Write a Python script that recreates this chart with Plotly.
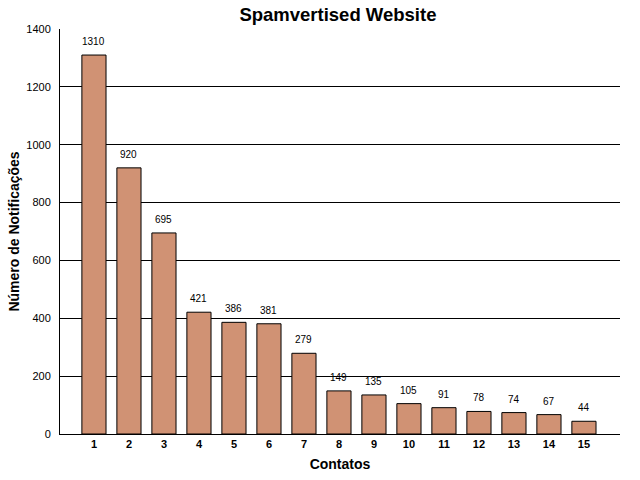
import plotly.graph_objects as go

contatos = list(range(1, 16))
notificacoes = [1310, 920, 695, 421, 386, 381, 279, 149, 135, 105, 91, 78, 74, 67, 44]
tick_labels = [str(c) for c in contatos]

fig = go.Figure()
fig.add_trace(go.Bar(
    x=contatos, y=notificacoes, width=0.69,
    marker=dict(color="#D09274", line=dict(color="black", width=1)),
))
for c, v in zip(contatos, notificacoes):
    fig.add_annotation(x=c, y=v, text=str(v), showarrow=False,
                       yanchor="bottom", yshift=6,
                       font=dict(family="Liberation Sans, Arial", size=10, color="black"))
fig.update_layout(
    width=640, height=480,
    margin=dict(l=60, r=20, t=29, b=46, autoexpand=False),
    paper_bgcolor="white", plot_bgcolor="white",
    title=dict(text="<b>Spamvertised Website</b>", x=0.528, xanchor="center",
               y=0.97, yanchor="middle",
               font=dict(family="Liberation Sans, Arial", size=18.5, color="black")),
    showlegend=False,
    font=dict(family="Liberation Sans, Arial", color="black"),
)
fig.update_xaxes(
    range=[0.03, 16.03], tickmode="array", tickvals=contatos,
    ticktext=["<b>%s</b>" % t for t in tick_labels],
    tickfont=dict(size=11), ticks="", showgrid=False,
    showline=True, linecolor="black", linewidth=1, automargin=False,
    title=dict(text="<b>Contatos</b>", font=dict(size=14), standoff=9),
)
fig.update_yaxes(
    range=[0, 1400], tickvals=[0, 200, 400, 600, 800, 1000, 1200, 1400],
    tickfont=dict(size=11), ticks="outside", ticklen=6, tickcolor="white",
    showgrid=True, gridcolor="black", gridwidth=1,
    showline=True, linecolor="black", linewidth=1, automargin=False,
    zeroline=False,
    title=dict(text="<b>Número de Notificações</b>", font=dict(size=14), standoff=3),
)
fig.write_html("out.html")
